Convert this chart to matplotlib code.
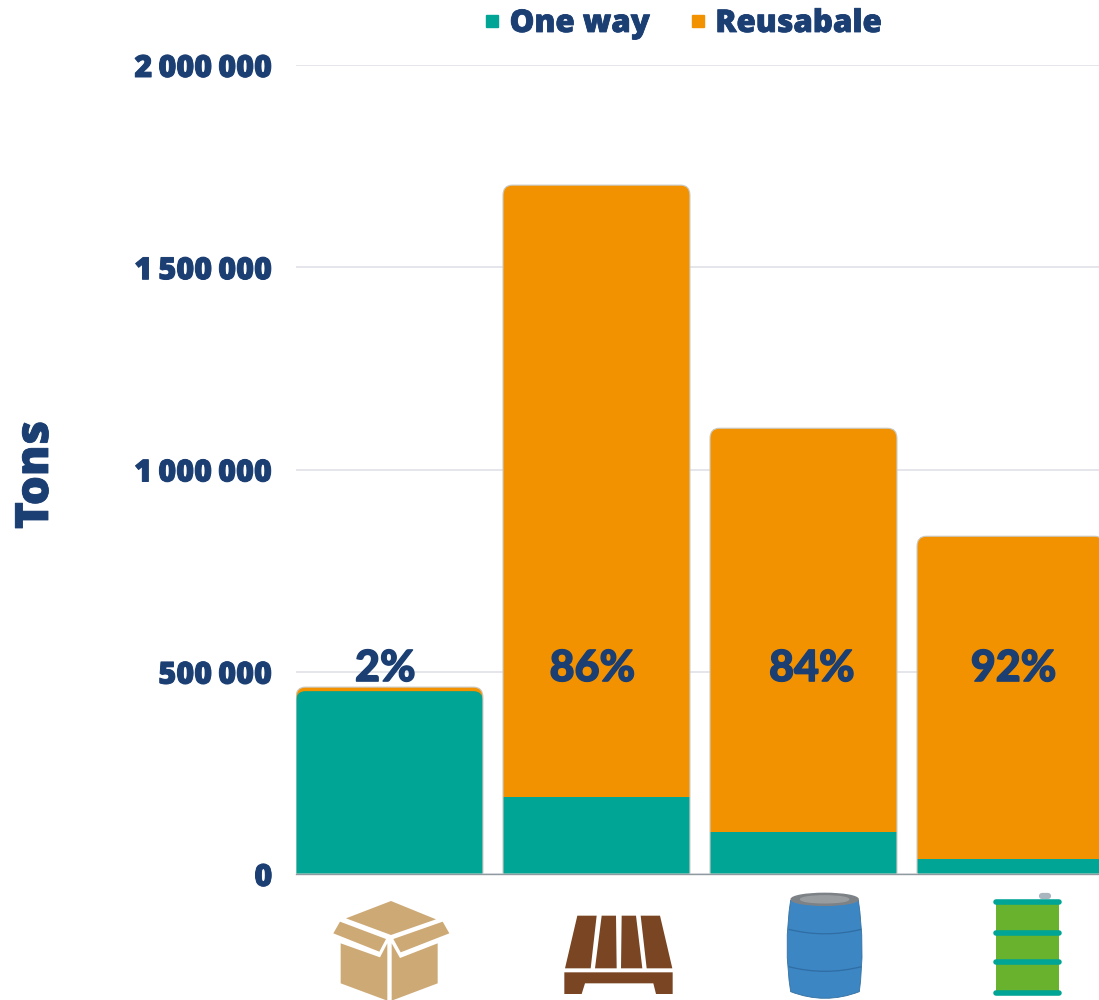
import matplotlib
matplotlib.use("Agg")
import matplotlib.pyplot as plt
import matplotlib.patheffects as pe
from matplotlib.lines import Line2D
from matplotlib.patches import Ellipse, PathPatch, Polygon
from matplotlib.path import Path

W, H = 1099, 1000

# tonnes par type d'emballage
one_way = [452000, 190000, 104000, 37000]
reusable = [10000, 1513000, 998000, 798000]
shares = ["2%", "86%", "84%", "92%"]
share_nudge = [-0.02, -0.02, 0.04, 0.015]
yticks = [0, 500000, 1000000, 1500000, 2000000]
ytick_labels = ["0", "500\u2009000", "1\u2009000\u2009000", "1\u2009500\u2009000", "2\u2009000\u2009000"]

TEAL = "#00a595"
ORANGE = "#f39200"
NAVY = "#1c3f73"
GRID = "#dfe2e7"
BAR_W = 0.903
TAN = "#cda976"
BROWN = "#7a4522"

plt.rcParams["font.family"] = ["Open Sans", "DejaVu Sans"]


def fat(width):
    # Open Sans s'arrête au gras ici, un contour épaissit le texte
    return [pe.withStroke(linewidth=width, foreground=NAVY)]


def rounded_top(x0, x1, top, rx, ry):
    """Contour d'une barre dont seuls les coins du haut sont arrondis."""
    verts = [(x0, 0), (x0, top - ry), (x0, top), (x0 + rx, top),
             (x1 - rx, top), (x1, top), (x1, top - ry), (x1, 0), (x0, 0)]
    codes = [Path.MOVETO, Path.LINETO, Path.CURVE3, Path.CURVE3,
             Path.LINETO, Path.CURVE3, Path.CURVE3, Path.LINETO, Path.CLOSEPOLY]
    return Path(verts, codes)


def poly(ax, x0, y0, pts, color, **kw):
    # les points sont relevés à l'échelle 3 autour de (x0, y0)
    ax.add_patch(Polygon([(x0 + x / 3, y0 + y / 3) for x, y in pts],
                         closed=True, facecolor=color, edgecolor="none", **kw))


def draw_box(ax):
    x0, y0 = 300, 870
    poly(ax, x0, y0, [(273, 93), (408, 148), (273, 195), (138, 145)], TAN)
    poly(ax, x0, y0, [(120, 155), (258, 207), (238, 245), (100, 190)], TAN)
    poly(ax, x0, y0, [(428, 155), (448, 190), (302, 247), (280, 207)], TAN)
    poly(ax, x0, y0, [(122, 220), (240, 262), (262, 220), (262, 392), (122, 340)], TAN)
    poly(ax, x0, y0, [(275, 220), (300, 264), (413, 220), (413, 340), (275, 392)], TAN)


def draw_pallet(ax):
    x0, y0 = 300, 870
    poly(ax, x0, y0, [(832, 137), (890, 137), (872, 295), (795, 295)], BROWN)
    poly(ax, x0, y0, [(905, 137), (948, 137), (950, 295), (885, 295)], BROWN)
    poly(ax, x0, y0, [(965, 137), (1008, 137), (1027, 295), (963, 295)], BROWN)
    poly(ax, x0, y0, [(1022, 137), (1080, 137), (1117, 295), (1040, 295)], BROWN)
    poly(ax, x0, y0, [(793, 307), (1118, 307), (1118, 372), (1068, 372), (1060, 340),
                      (855, 340), (845, 372), (793, 372)], BROWN)


def draw_barrel(ax):
    x0, y0 = 750, 870
    pts = [(122, 90), (100, 230), (122, 365), (225, 405), (328, 365), (346, 230), (325, 90)]
    verts = [(x0 + x / 3, y0 + y / 3) for x, y in pts]
    codes = [Path.MOVETO, Path.CURVE3, Path.CURVE3, Path.CURVE3, Path.CURVE3, Path.CURVE3, Path.CURVE3]
    ax.add_patch(PathPatch(Path(verts, codes), facecolor="#3c86c4", edgecolor="#35709f", lw=0.6))
    # cerclages du fût
    for y_side, y_mid in [(178, 205), (290, 318)]:
        band = [(116, y_side), (225, y_mid), (334, y_side)]
        band = [(x0 + x / 3, y0 + y / 3) for x, y in band]
        ax.add_patch(PathPatch(Path(band, [Path.MOVETO, Path.CURVE3, Path.CURVE3]),
                               facecolor="none", edgecolor="#2f6da3", lw=0.9))
    ax.add_patch(Ellipse((x0 + 224 / 3, y0 + 88 / 3), 67, 12, color="#7d8287"))
    ax.add_patch(Ellipse((x0 + 224 / 3, y0 + 88 / 3), 48, 7, color="#9a9da0"))


def draw_drum(ax):
    x0, y0 = 750, 870
    ax.plot([x0 + 875 / 3, x0 + 895 / 3], [y0 + 78 / 3] * 2, color="#a9b6bf", lw=4.5,
            solid_capstyle="round")
    poly(ax, x0, y0, [(738, 100), (928, 100), (928, 365), (738, 365)], "#68b22e")
    for y in [95, 190, 276, 369]:
        ax.plot([x0 + 737 / 3, x0 + 928 / 3], [y0 + y / 3] * 2, color=TEAL, lw=4.0,
                solid_capstyle="round")


fig = plt.figure(figsize=(W / 100, H / 100), dpi=100)
ax = fig.add_axes([296 / W, 1 - 874 / H, (W - 296) / W, (874 - 65) / H])

xs = list(range(len(one_way)))
totals = [a + b for a, b in zip(one_way, reusable)]
rx, ry = 0.045, 25000

orange_bars = ax.bar(xs, totals, BAR_W, color=ORANGE, zorder=2)
green_bars = ax.bar(xs, one_way, BAR_W, color=TEAL, zorder=3)

for x, total, low, orange, green in zip(xs, totals, one_way, orange_bars, green_bars):
    x0, x1 = x - BAR_W / 2, x + BAR_W / 2
    outline = PathPatch(rounded_top(x0, x1, total, rx, ry), facecolor="none",
                        edgecolor="#c9c9c4", lw=0.8, zorder=4)
    ax.add_patch(outline)
    # la partie orange suit le contour arrondi
    orange.set_clip_path(outline)
    # barre presque entièrement verte : elle garde aussi ses coins arrondis
    if low > total / 2:
        green.set_clip_path(PathPatch(rounded_top(x0, x1, low, rx, ry), transform=ax.transData))

for x, label, nudge in zip(xs, shares, share_nudge):
    ax.text(x + nudge, 509000, label, ha="center", va="center", color=NAVY, fontsize=31,
            fontweight="black", family=["Lato", "DejaVu Sans"], zorder=5, path_effects=fat(1.0))

ax.set_xlim(-BAR_W / 2, (W - 389.5) / 207)
ax.set_ylim(0, 2000000)
ax.set_xticks([])
ax.set_yticks(yticks)
ax.set_yticklabels(ytick_labels, fontsize=22, fontweight="heavy", color=NAVY, path_effects=fat(0.7))
ax.tick_params(axis="y", length=0, pad=17)
ax.grid(axis="y", color=GRID, lw=1.2, zorder=0)
ax.set_axisbelow(True)
for side in ["top", "right", "left"]:
    ax.spines[side].set_visible(False)
ax.spines["bottom"].set_color("#8f9aa0")
ax.spines["bottom"].set_linewidth(1)

handles = [Line2D([], [], ls="", marker="s", ms=9, color=TEAL),
           Line2D([], [], ls="", marker="s", ms=9, color=ORANGE)]
legend = fig.legend(handles, ["One way", "Reusabale"], loc="center", bbox_to_anchor=(683 / W, 1 - 24 / H),
                    ncols=2, frameon=False, handlelength=0.5, handletextpad=0.3, columnspacing=1.3,
                    prop={"size": 22.5, "weight": "heavy"}, labelcolor=NAVY)
for text in legend.get_texts():
    text.set_path_effects(fat(0.6))

fig.text(36 / W, 1 - 475 / H, "Tons", rotation=90, ha="center", va="center", color=NAVY,
         fontsize=33, fontweight="heavy", path_effects=fat(0.6))

# pictogrammes sous l'axe, repérés en pixels
icons = fig.add_axes([0, 0, 1, 1], facecolor="none")
icons.set_xlim(0, W)
icons.set_ylim(H, 0)
icons.axis("off")
draw_box(icons)
draw_pallet(icons)
draw_barrel(icons)
draw_drum(icons)

fig.savefig("out.png", dpi=100)
